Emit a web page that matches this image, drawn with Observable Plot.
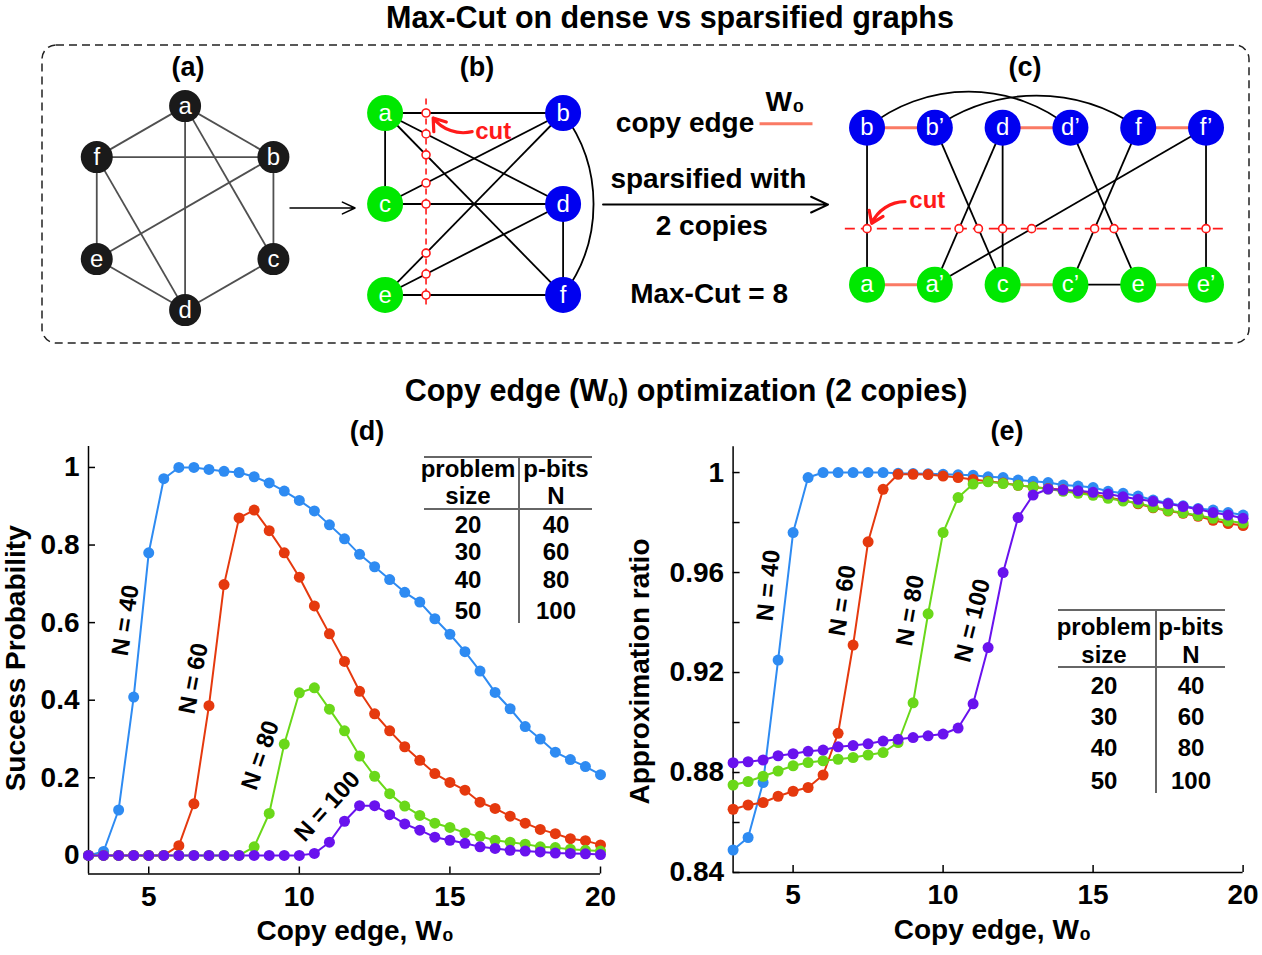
<!DOCTYPE html>
<html><head><meta charset="utf-8">
<script src="https://cdn.jsdelivr.net/npm/d3@7"></script>
<script src="https://cdn.jsdelivr.net/npm/@observablehq/plot@0.6"></script>
<style>
html,body{margin:0;padding:0;background:#fff;}
#root{position:relative;width:1262px;height:955px;overflow:hidden;background:#fff;font-family:"Liberation Sans",Arial,Helvetica,sans-serif;color:#000;}
.lbl{position:absolute;white-space:nowrap;line-height:1;transform:translate(-50%,-50%);}
.ln{position:absolute;background:#666;}
sub{font-size:60%;vertical-align:-0.25em;}
</style></head>
<body><div id="root"></div>
<script>
// ---------------- data ----------------
const W0 = [3,3.5,4,4.5,5,5.5,6,6.5,7,7.5,8,8.5,9,9.5,10,10.5,11,11.5,12,12.5,13,13.5,14,14.5,15,15.5,16,16.5,17,17.5,18,18.5,19,19.5,20];
const seriesNames = ["N = 40","N = 60","N = 80","N = 100"];
const seriesColors = ["#2e8bf2","#e5390e","#6ad819","#6912ee"];

const success40  = [0,0.01,0.117,0.408,0.78,0.971,1.0,1.0,0.995,0.99,0.987,0.976,0.96,0.939,0.915,0.888,0.852,0.816,0.776,0.744,0.711,0.678,0.653,0.61,0.57,0.525,0.475,0.42,0.378,0.332,0.30,0.266,0.247,0.229,0.208];
const success60  = [0,0,0,0,0,0,0.025,0.133,0.386,0.698,0.87,0.89,0.837,0.78,0.717,0.643,0.571,0.5,0.423,0.365,0.321,0.28,0.245,0.211,0.188,0.168,0.137,0.121,0.101,0.083,0.067,0.056,0.043,0.038,0.027];
const success80  = [0,0,0,0,0,0,0,0,0,0,0,0.022,0.108,0.287,0.419,0.432,0.377,0.321,0.256,0.204,0.159,0.127,0.103,0.083,0.072,0.058,0.049,0.039,0.034,0.029,0.022,0.02,0.016,0.013,0.011];
const success100 = [0,0,0,0,0,0,0,0,0,0,0,0,0,0,0,0.005,0.034,0.088,0.128,0.128,0.105,0.081,0.065,0.047,0.039,0.031,0.022,0.018,0.013,0.011,0.009,0.006,0.005,0.004,0.002];

const ratio40  = [0.849,0.854,0.876,0.925,0.976,0.998,1.0,1.0,1.0,1.0,1.0,0.9997,0.9996,0.9995,0.9993,0.9991,0.9989,0.9983,0.998,0.997,0.9965,0.996,0.995,0.9946,0.994,0.9925,0.9917,0.9906,0.989,0.9878,0.9867,0.9856,0.985,0.984,0.983];
const ratio60  = [0.8653,0.867,0.868,0.8705,0.8725,0.874,0.879,0.8957,0.931,0.9723,0.9933,0.9993,0.9993,0.9992,0.9986,0.998,0.9972,0.9965,0.9958,0.9949,0.9942,0.9936,0.9931,0.9922,0.9913,0.99,0.9889,0.9875,0.9859,0.9846,0.9837,0.9825,0.9809,0.9796,0.9788];
const ratio80  = [0.875,0.8764,0.8785,0.8806,0.8827,0.884,0.8847,0.8853,0.886,0.887,0.888,0.892,0.9079,0.9435,0.976,0.99,0.9954,0.9963,0.9956,0.9949,0.9942,0.9934,0.9925,0.9917,0.9909,0.9897,0.9886,0.9878,0.9861,0.9848,0.9839,0.9828,0.9817,0.9806,0.9798];
const ratio100 = [0.8839,0.8843,0.885,0.8867,0.8875,0.8885,0.889,0.8903,0.8908,0.8915,0.8926,0.8933,0.894,0.8947,0.8954,0.8978,0.9075,0.93,0.96,0.982,0.991,0.9934,0.993,0.9927,0.9921,0.9914,0.9903,0.9893,0.9885,0.9875,0.9864,0.9853,0.984,0.983,0.9817];

const wTicks = [5,10,15,20];
const successTicks = [0,0.2,0.4,0.6,0.8,1];
const ratioTicks = [0.84,0.88,0.92,0.96,1];
const ratioMinorTicks = [0.84,0.86,0.88,0.90,0.92,0.94,0.96,0.98,1];

const successLabelPos = [{x:4.23,y:0.606,angle:-81},{x:6.49,y:0.456,angle:-79},{x:8.71,y:0.258,angle:-71},{x:10.93,y:0.126,angle:-48}];
const ratioLabelPos = [{x:4.18,y:0.9548,angle:-84},{x:6.65,y:0.9488,angle:-81},{x:8.91,y:0.9448,angle:-80},{x:10.98,y:0.9408,angle:-76}];

const problemSize = [20,30,40,50];
const pbits = [40,60,80,100];

// graph (a): dense graph on a hexagon
const denseNodes = [{id:"a",x:0,y:1},{id:"b",x:0.866,y:0.5},{id:"c",x:0.866,y:-0.5},{id:"d",x:0,y:-1},{id:"e",x:-0.866,y:-0.5},{id:"f",x:-0.866,y:0.5}];
const denseEdges = [["a","f"],["a","b"],["a","d"],["a","c"],["f","b"],["f","e"],["f","d"],["b","e"],["b","c"],["e","d"],["c","d"]];

// graph (b): cut layout, column 0 = green side, column 1 = blue side
const cutNodes = [{id:"a",x:0,y:0,side:0},{id:"c",x:0,y:1,side:0},{id:"e",x:0,y:2,side:0},{id:"b",x:1,y:0,side:1},{id:"d",x:1,y:1,side:1},{id:"f",x:1,y:2,side:1}];
const cutEdges = [["a","b"],["a","c"],["a","d"],["a","f"],["c","b"],["c","d"],["e","b"],["e","d"],["e","f"],["d","f"]];
const cutArcs = [{s:"b",t:"f",bend:37}];

// graph (c): sparsified with 2 copies
const sparseNodes = [
  {id:"b",label:"b",x:0,y:0,side:1},{id:"b2",label:"b\u2019",x:1,y:0,side:1},{id:"d",label:"d",x:2,y:0,side:1},
  {id:"d2",label:"d\u2019",x:3,y:0,side:1},{id:"f",label:"f",x:4,y:0,side:1},{id:"f2",label:"f\u2019",x:5,y:0,side:1},
  {id:"a",label:"a",x:0,y:1,side:0},{id:"a2",label:"a\u2019",x:1,y:1,side:0},{id:"c",label:"c",x:2,y:1,side:0},
  {id:"c2",label:"c\u2019",x:3,y:1,side:0},{id:"e",label:"e",x:4,y:1,side:0},{id:"e2",label:"e\u2019",x:5,y:1,side:0}];
const copyEdges = [["b","b2"],["d","d2"],["f","f2"],["a","a2"],["c","c2"],["e","e2"]];
const sparseEdges = [["b","a"],["b2","c"],["d","a2"],["d","c"],["d2","e"],["f","c2"],["f2","a2"],["f2","e2"],["c2","e"]];
const sparseArcs = [{s:"b",t:"d2",bend:39},{s:"b2",t:"f",bend:35}];

const midTexts = [
  {t:"copy edge", x:-2.684, y:-0.032},
  {t:"W\u2080", x:-1.209, y:-0.165},
  {t:"sparsified with", x:-2.34, y:0.327},
  {t:"2 copies", x:-2.29, y:0.624},
  {t:"Max-Cut = 8", x:-2.33, y:1.06}];

// ---------------- helpers ----------------
const FONT = '"Liberation Sans", Arial, Helvetica, sans-serif';
const BLUE = "#0000f0", GREEN = "#00e800", COPY = "#fa7a64", RED = "#ff1a1a";
const root = document.getElementById("root");
function place(el, left, top) {
  el.style.position = "absolute"; el.style.left = left + "px"; el.style.top = top + "px";
  root.appendChild(el); return el;
}
function label(html, cx, cy, size, weight = "bold", color = "#000") {
  const d = document.createElement("div");
  d.className = "lbl"; d.innerHTML = html;
  Object.assign(d.style, {left: cx + "px", top: cy + "px", fontSize: size + "px", fontWeight: weight, color});
  root.appendChild(d);
}
function hline(x0, x1, y) { const d = document.createElement("div"); d.className = "ln"; Object.assign(d.style, {left: x0+"px", top: (y-0.75)+"px", width: (x1-x0)+"px", height: "1.5px"}); root.appendChild(d); }
function vline(x, y0, y1) { const d = document.createElement("div"); d.className = "ln"; Object.assign(d.style, {left: (x-0.75)+"px", top: y0+"px", width: "1.5px", height: (y1-y0)+"px"}); root.appendChild(d); }

// dashed frame of the top panel
const frame = d3.create("svg").attr("width", 1262).attr("height", 955);
frame.append("rect").attr("x", 42).attr("y", 45).attr("width", 1207).attr("height", 298).attr("rx", 14)
  .attr("fill", "none").attr("stroke", "#222").attr("stroke-width", 1.5).attr("stroke-dasharray", "8,5");
place(frame.node(), 0, 0);

function graphPlot(cfg) {
  const byId = new Map(cfg.nodes.map(n => [n.id, n]));
  const seg = ([s, t]) => ({x1: byId.get(s).x, y1: byId.get(s).y, x2: byId.get(t).x, y2: byId.get(t).y});
  const width = Math.abs(cfg.xDomain[1] - cfg.xDomain[0]) * cfg.xUnit;
  const height = Math.abs(cfg.yDomain[1] - cfg.yDomain[0]) * cfg.yUnit;
  const L = {x1: "x1", y1: "y1", x2: "x2", y2: "y2"};
  const marks = [
    ...(cfg.under || []),
    Plot.link((cfg.copyEdges || []).map(seg), {...L, stroke: COPY, strokeWidth: 3}),
    Plot.link(cfg.edges.map(seg), {...L, stroke: cfg.edgeColor, strokeWidth: cfg.edgeWidth}),
    ...(cfg.arcs || []).map(a => Plot.arrow([seg([a.s, a.t])], {...L, bend: a.bend, headLength: 0, stroke: cfg.edgeColor, strokeWidth: cfg.edgeWidth})),
    ...(cfg.over || []),
    Plot.dot(cfg.nodes, {x: "x", y: "y", r: cfg.r, fill: cfg.nodeFill, stroke: "none"}),
    Plot.text(cfg.nodes, {x: "x", y: "y", text: d => d.label || d.id, fill: "white", fontSize: 24, fontWeight: "normal"})
  ];
  return Plot.plot({
    width, height, margin: 0,
    x: {domain: cfg.xDomain, axis: null}, y: {domain: cfg.yDomain, axis: null},
    style: {background: "transparent", overflow: "visible", fontFamily: FONT},
    marks
  });
}

// ---------------- (a) ----------------
place(graphPlot({nodes: denseNodes, edges: denseEdges, edgeColor: "#505050", edgeWidth: 1.8, r: 16, nodeFill: "#1a1a1a",
  xDomain: [-1.3, 1.3], yDomain: [-1.3, 1.3], xUnit: 102, yUnit: 102}), 51.9, 75.4);

// ---------------- (b) ----------------
const cutX = 0.23;
const cutById = new Map(cutNodes.map(n => [n.id, n]));
const cutCross = cutEdges.map(([s, t]) => [cutById.get(s), cutById.get(t)])
  .filter(([p, q]) => (p.x - cutX) * (q.x - cutX) < 0)
  .map(([p, q]) => ({x: cutX, y: p.y + (cutX - p.x) / (q.x - p.x) * (q.y - p.y)}));
place(graphPlot({nodes: cutNodes, edges: cutEdges, arcs: cutArcs, edgeColor: "#000", edgeWidth: 1.8, r: 18,
  nodeFill: d => d.side ? BLUE : GREEN,
  xDomain: [-0.7, 1.4], yDomain: [2.5, -0.5], xUnit: 178, yUnit: 91,
  under: [Plot.arrow([{x1: -0.534, y1: 1.044, x2: -0.169, y2: 1.044}], {x1: "x1", y1: "y1", x2: "x2", y2: "y2", stroke: "#000", strokeWidth: 1.6, headLength: 13, headAngle: 50})],
  over: [
    Plot.ruleX([cutX], {y1: -0.154, y2: 2.12, stroke: RED, strokeWidth: 1.6, strokeDasharray: "6,4"}),
    Plot.dot(cutCross, {x: "x", y: "y", r: 4, fill: "white", stroke: RED, strokeWidth: 1.6}),
    Plot.arrow([{x1: 0.489, y1: 0.205, x2: 0.27, y2: 0.055}], {x1: "x1", y1: "y1", x2: "x2", y2: "y2", bend: 33, stroke: RED, strokeWidth: 3.2, headLength: 11, headAngle: 70}),
    Plot.text([{x: 0.607, y: 0.198}], {x: "x", y: "y", text: () => "cut", fill: RED, fontSize: 24, fontWeight: "bold"})
  ]}), 260.4, 66.5);

// ---------------- (c) + middle annotations ----------------
const cutY = 0.643;
const spById = new Map(sparseNodes.map(n => [n.id, n]));
const spCross = sparseEdges.map(([s, t]) => [spById.get(s), spById.get(t)])
  .filter(([p, q]) => (p.y - cutY) * (q.y - cutY) < 0)
  .map(([p, q]) => ({y: cutY, x: p.x + (cutY - p.y) / (q.y - p.y) * (q.x - p.x)}));
place(graphPlot({nodes: sparseNodes, edges: sparseEdges, copyEdges, arcs: sparseArcs, edgeColor: "#000", edgeWidth: 1.8, r: 18,
  nodeFill: d => d.side ? BLUE : GREEN,
  xDomain: [-4.3, 5.75], yDomain: [1.5, -0.6], xUnit: 67.8, yUnit: 157,
  under: [
    Plot.arrow([{x1: -3.894, y1: 0.49, x2: -0.575, y2: 0.49}], {x1: "x1", y1: "y1", x2: "x2", y2: "y2", stroke: "#000", strokeWidth: 2, headLength: 14, headAngle: 50}),
    Plot.ruleY([-0.025], {x1: -1.578, x2: -0.797, stroke: COPY, strokeWidth: 3}),
    Plot.text(midTexts, {x: "x", y: "y", text: "t", fontSize: 28, fontWeight: "bold", fill: "#000"})
  ],
  over: [
    Plot.ruleY([cutY], {x1: -0.32, x2: 5.31, stroke: RED, strokeWidth: 1.6, strokeDasharray: "10,6"}),
    Plot.dot(spCross, {x: "x", y: "y", r: 4, fill: "white", stroke: RED, strokeWidth: 1.6}),
    Plot.arrow([{x1: 0.56, y1: 0.471, x2: 0.069, y2: 0.609}], {x1: "x1", y1: "y1", x2: "x2", y2: "y2", bend: -33, stroke: RED, strokeWidth: 3.2, headLength: 11, headAngle: 70}),
    Plot.text([{x: 0.889, y: 0.461}], {x: "x", y: "y", text: () => "cut", fill: RED, fontSize: 24, fontWeight: "bold"})
  ]}), 575.46, 32.8);

// ---------------- bottom plots ----------------
function seriesPlot(cfg) {
  const {width, height, ml, mr, mt, mb, xDomain, yDomain} = cfg;
  const pxX = (width - ml - mr) / (xDomain[1] - xDomain[0]);
  const pxY = (height - mt - mb) / (yDomain[1] - yDomain[0]);
  const tl = 7;
  const rows = cfg.series.flatMap((vals, i) => vals.map((v, j) => ({w: W0[j], v, n: seriesNames[i]})));
  const ax = {stroke: "#000", strokeWidth: 1.5};
  return Plot.plot({
    width, height, marginLeft: ml, marginRight: mr, marginTop: mt, marginBottom: mb,
    style: {background: "transparent", overflow: "visible", fontFamily: FONT, fontSize: "28px", fontWeight: "bold", color: "#000"},
    x: {domain: xDomain, ticks: wTicks, tickSize: 0, tickPadding: 12, label: null},
    y: {domain: yDomain, ticks: cfg.yTicks, tickFormat: cfg.yFmt, tickSize: 0, tickPadding: 9, label: null},
    color: {domain: seriesNames, range: seriesColors},
    marks: [
      Plot.ruleX([xDomain[0]], ax),
      Plot.ruleY([yDomain[0]], ax),
      Plot.ruleY(cfg.yMinor, {x1: xDomain[0], x2: xDomain[0] + tl / pxX, ...ax}),
      Plot.ruleX(wTicks, {y1: yDomain[0], y2: yDomain[0] + tl / pxY, ...ax}),
      Plot.line(rows, {x: "w", y: "v", z: "n", stroke: "n", strokeWidth: 2}),
      Plot.dot(rows, {x: "w", y: "v", fill: "n", r: 5.5}),
      Plot.text(cfg.labels.map((p, i) => ({...p, t: seriesNames[i]})), {x: "x", y: "y", text: "t", rotate: "angle", fontSize: 24, fontWeight: "bold", fill: "#000"}),
      Plot.text([{x: cfg.xLabelX}], {x: "x", frameAnchor: "bottom", dy: cfg.xLabelDy, textAnchor: "middle", lineAnchor: "middle", text: () => "Copy edge, W\u2080", fontSize: 28, fontWeight: "bold", fill: "#000"}),
      Plot.text([{y: cfg.yLabelY}], {y: "y", frameAnchor: "left", dx: cfg.yLabelDx, rotate: -90, textAnchor: "middle", lineAnchor: "middle", text: () => cfg.yLabel, fontSize: 28, fontWeight: "bold", fill: "#000"})
    ]
  });
}

place(seriesPlot({width: 630, height: 555, ml: 88, mr: 30, mt: 46, mb: 81.5,
  xDomain: [3, 20], yDomain: [-0.048, 1.054],
  yTicks: successTicks, yMinor: successTicks, yFmt: d => d === 0 ? "0" : d === 1 ? "1" : d.toFixed(1),
  series: [success40, success60, success80, success100], labels: successLabelPos,
  xLabelX: 11.86, xLabelDy: 57, yLabel: "Success Probability", yLabelY: 0.508, yLabelDx: -72}), 0, 400);

place(seriesPlot({width: 632, height: 555, ml: 102.6, mr: 19.4, mt: 46.3, mb: 83,
  xDomain: [3, 20], yDomain: [0.84, 1.0103],
  yTicks: ratioTicks, yMinor: ratioMinorTicks, yFmt: d => d === 1 ? "1" : d.toFixed(2),
  series: [ratio40, ratio60, ratio80, ratio100], labels: ratioLabelPos,
  xLabelX: 11.65, xLabelDy: 57.5, yLabel: "Approximation ratio", yLabelY: 0.9204, yLabelDx: -92.6}), 630, 400);

// ---------------- tables ----------------
function addTable(t) {
  hline(t.x0, t.x1, t.yTop); hline(t.x0, t.x1, t.yHead); vline(t.xDiv, t.yTop, t.yBot);
  label("problem", t.c1, t.h1, 24); label("size", t.c1, t.h2, 24);
  label("p-bits", t.c2, t.h1, 24); label("N", t.c2, t.h2, 24);
  problemSize.forEach((v, i) => { label(String(v), t.c1, t.rows[i], 24); label(String(pbits[i]), t.c2, t.rows[i], 24); });
}
addTable({x0: 424, x1: 592, xDiv: 519, yTop: 457, yHead: 509, yBot: 623, h1: 469, h2: 496, rows: [525, 552, 580, 611], c1: 468, c2: 556});
addTable({x0: 1058, x1: 1225, xDiv: 1156, yTop: 610, yHead: 667, yBot: 793, h1: 627, h2: 655, rows: [686, 717, 748, 781], c1: 1104, c2: 1191});

// ---------------- titles ----------------
label("Max-Cut on dense vs sparsified graphs", 670, 17, 30.5);
label("Copy edge (W<sub>0</sub>) optimization (2 copies)", 686, 392, 30.5);
label("(a)", 188, 67, 27); label("(b)", 477, 67, 27); label("(c)", 1025, 67, 27);
label("(d)", 367, 431, 27); label("(e)", 1007, 431, 27);
</script></body></html>
